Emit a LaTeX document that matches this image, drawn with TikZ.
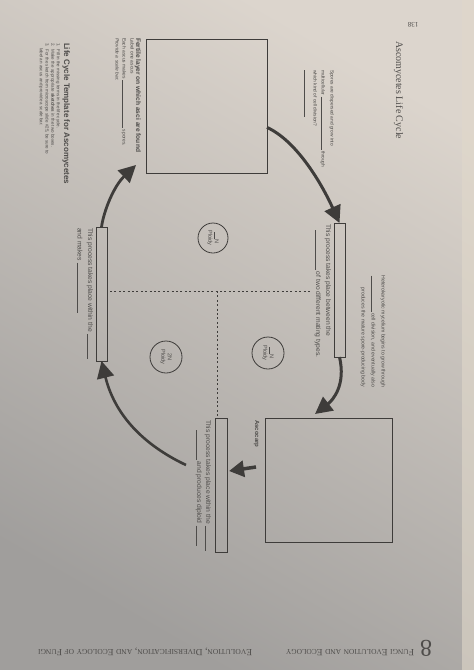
\documentclass[tikz,border=0pt]{standalone}
\usepackage{fontspec}
\setmainfont{Liberation Serif}
\newfontfamily\sansf{Liberation Sans}
\usetikzlibrary{arrows.meta,calc}
\definecolor{ink}{RGB}{62,60,58}
\definecolor{txt}{RGB}{78,76,74}
\definecolor{paperA}{RGB}{220,213,205}
\definecolor{paperB}{RGB}{160,158,156}
\definecolor{edge}{RGB}{224,216,202}
\newcommand{\blankl}[1]{\rule[-0.6pt]{#1}{0.45pt}}
% fake small caps: big initial, small rest
\newcommand{\scA}[2]{{\fontsize{9.5}{9.5}\selectfont#1}{\fontsize{7.4}{7.4}\selectfont#2}}
\newcommand{\scB}[2]{{\fontsize{9.4}{9.4}\selectfont#1}{\fontsize{7.5}{7.5}\selectfont#2}}
\begin{document}
\begin{tikzpicture}[x=1pt,y=-1pt,
  every node/.style={inner sep=0pt,outer sep=0pt},
  vtext/.style={rotate=-90,anchor=base west,text=txt,font=\sansf\fontsize{#1}{#1}\selectfont},
  vtext/.default=6.7,
  vtextr/.style={rotate=-90,anchor=base east,text=txt,font=\sansf\fontsize{#1}{#1}\selectfont},
  vbold/.style={rotate=-90,anchor=base west,text=txt,font=\sansf\bfseries\fontsize{#1}{#1}\selectfont},
  boxst/.style={draw=ink,line width=1pt},
  labelbar/.style={draw=ink,line width=1pt},
  bigarrow/.style={draw=ink,line width=3pt,-{Triangle[length=17pt,width=17pt]}},
  ploidy/.style={circle,draw=ink,line width=0.8pt,minimum size=#1},
  ptext/.style={rotate=-90,align=center,text=txt,font=\sansf\fontsize{5.6}{6.6}\selectfont},
  dashline/.style={draw=ink,line width=1pt,dash pattern=on 2pt off 2.4pt},
  foot/.style={rotate=180,anchor=base west,text=txt}
]
\useasboundingbox (0,0) rectangle (474,670);
\shade[top color=paperA,bottom color=paperB,shading angle=-30] (0,0) rectangle (474,670);
\fill[edge,opacity=0.6] (462,0) rectangle (474,670);

% headings
\node[rotate=-90,anchor=base west,text=txt,font=\fontsize{10}{10}\selectfont] (title) at (396,41) {Ascomycetes Life Cycle};
\node[rotate=180,text=txt,font=\fontsize{7}{7}\selectfont] (pnum) at (413,25) {138};

% boxes
\node[boxst,minimum width=121pt,minimum height=134pt] (boxA) at (206.5,106) {};
\node[boxst,minimum width=127pt,minimum height=124pt] (boxB) at (328.5,480) {};
\node[vbold=6] (asco) at (255,420) {Ascocarp};

% label bars
\node[labelbar,minimum width=11pt,minimum height=134pt] (rectD) at (101.5,294) {};
\node[labelbar,minimum width=11pt,minimum height=134pt] (rectE) at (339.5,290) {};
\node[labelbar,minimum width=12pt,minimum height=134pt] (rectC) at (221,485) {};

% texts
\node[vtextr=5.2] (het1) at (381.5,387) {Heterokaryotic mycelium begins to grow through};
\node[vtextr=5.2] (het2) at (371.5,387) {\blankl{36pt} cell division, and eventually also};
\node[vtextr=5.2] (het3) at (361.5,387) {produces the mature spore-producing body};

\node[vtext] (e1) at (326,224) {This process takes place between the};
\node[vtext] (e2) at (316,230) {\blankl{40pt} of two different mating types.};

\node[vtext] (d1) at (88,228) {This process takes place within the \blankl{25pt}};
\node[vtext] (d2) at (77.5,228) {and makes \blankl{50pt}};

\node[vtext] (c1) at (206,420) {This process takes place within the \blankl{25pt}};
\node[vtext] (c2) at (197,430) {\blankl{30pt} and produces diploid \blankl{20pt}};

\node[vtext=4.8] (s1) at (330.5,70) {Spores are dispersed and grow into};
\node[vtext=4.8] (s2) at (321.5,70) {multicellular \blankl{53pt} through};
\node[vtext=4.8] (s3) at (313.5,70) {which kind of cell division?};
\node[vtext=4.8] (s4) at (305,70) {\blankl{47pt}};

\node[vbold=6.6] (f1) at (136,38) {Fertile layer on which asci are found};
\node[vtext=4.9] (f2) at (130.5,38) {Label one ascus};
\node[vtext=4.9] (f3) at (122.5,38) {Each ascus makes \blankl{48pt} spores.};
\node[vtext=4.9] (f4) at (115.5,38) {\itshape Provide a scale bar.};

\node[vbold=8] (t0) at (64,43) {Life Cycle Template for Ascomycetes};
\node[vtext=4.5] (t1) at (56.8,43) {1.\ \ Fill in the missing terms in the life cycle.};
\node[vtext=4.5] (t2) at (51.3,43) {2.\ \ Make the appropriate \textbf{sketches} in the two boxes.};
\node[vtext=4.5] (t3) at (45.6,43) {3.\ \ For the sketch from microscope slide \#25, be sure to};
\node[vtext=4.5] (t4) at (39.8,48) {label an ascus and provide a scale bar.};

% ploidy circles
\node[ploidy=30pt] (n1) at (213,238) {};
\node[ptext] at (n1) {\blankl{7pt}\,N\\Ploidy};
\node[ploidy=32pt] (n2) at (268,353) {};
\node[ptext] at (n2) {\blankl{7pt}\,N\\Ploidy};
\node[ploidy=32pt] (n3) at (166,357) {};
\node[ptext] at (n3) {2N\\Ploidy};

% dashed dividers
\coordinate (hl) at (110,291);
\coordinate (hr) at (312,291);
\coordinate (vt) at (217,291);
\coordinate (vb) at (217,416);
\draw[dashline] (hl) -- (hr);
\draw[dashline] (vt) -- (vb);

% cycle arrows
\draw[bigarrow] ($(boxA.north east)!0.66!(boxA.south east)$) .. controls (295,140) and (320,180) .. (rectE.north);
\coordinate (a2e) at (315,414);
\draw[bigarrow] (rectE.south) .. controls (346,385) and (333,400) .. (a2e);
\coordinate (a3s) at (256,467);
\coordinate (a3e) at (229,471);
\draw[bigarrow,line width=3.5pt,-{Triangle[length=15pt,width=16pt]}] (a3s) -- (a3e);
\coordinate (a4s) at (186,465);
\draw[bigarrow,line width=2.6pt] (a4s) .. controls (150,448) and (116,420) .. (rectD.south);
\draw[bigarrow,line width=2.8pt] (rectD.north) .. controls (104,210) and (114,186) .. ($(boxA.south west)+(-10,-8)$);

% running head (upside down)
\node[rotate=180,text=txt,font=\fontsize{24}{24}\selectfont] (chap) at (426,648) {8};
\node[foot] (fh1) at (414,649.5) {\scA{F}{UNGI} \scA{E}{VOLUTION} \scA{}{AND} \scA{E}{COLOGY}};
\node[foot] (fh2) at (252,649.5) {\scB{E}{VOLUTION}, \scB{D}{IVERSIFICATION}, \scB{}{AND} \scB{E}{COLOGY} \scB{}{OF} \scB{F}{UNGI}};
\end{tikzpicture}
\end{document}
